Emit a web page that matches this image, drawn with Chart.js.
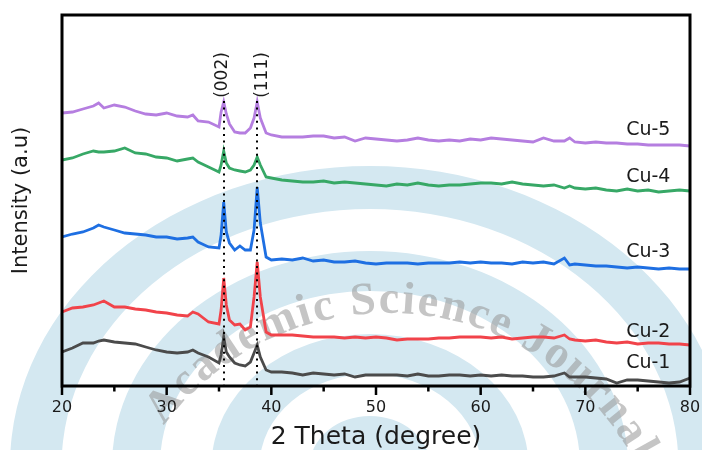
<!DOCTYPE html>
<html>
<head>
<meta charset="utf-8">
<title>XRD patterns Cu-1 to Cu-5</title>
<script src="https://cdn.jsdelivr.net/npm/chart.js@4.4.1/dist/chart.umd.min.js"></script>
<style>
  html, body { margin: 0; padding: 0; background: #fff; }
  canvas { display: block; }
</style>
</head>
<body>
<canvas id="xrd" width="702" height="450"></canvas>
<script>
// 2θ sampling (degrees), denser around the two reflections
const TWO_THETA = [
  20, 21, 22, 23, 23.5, 24, 25, 26, 27, 28,
  29, 30, 31, 32, 32.5, 33, 34, 35, 35.2, 35.45,
  35.7, 36, 36.5, 37, 37.5, 38, 38.35, 38.65, 38.95, 39.5,
  40,
  41, 42, 43, 44, 45, 46, 47, 48, 49, 50,
  51, 52, 53, 54, 55, 56, 57, 58, 59, 60,
  61, 62, 63, 64, 65, 66, 67, 68,
  68.5,
  69, 70, 71, 72, 73, 74, 75, 76, 77, 78, 79, 80,
];

// stacked intensities (a.u., offsets included)
const CU1 = [
  33, 37, 42, 42, 44, 45, 43, 42, 41, 38,
  35, 33, 32, 33, 35, 32, 28, 22, 30, 48,
  33, 28, 22, 20, 19, 23, 32, 40, 28, 15,
  13,
  13, 12, 10, 12, 11, 10, 11, 8, 10, 10,
  10, 10, 9, 11, 9, 9, 10, 10, 9, 10,
  9, 10, 9, 9, 8, 8, 9, 12,
  8,
  8, 8, 7, 6, 2, 5, 5, 4, 3, 2, 3, 7,
];
const CU2 = [
  73, 77, 78, 80, 82, 84, 78, 78, 76, 75,
  73, 72, 70, 69, 73, 71, 63, 61, 75, 107,
  80, 65, 60, 61, 55, 58, 88, 123, 88, 53,
  50,
  50, 50, 49, 48, 48, 48, 47, 48, 47, 48,
  47, 45, 46, 46, 46, 47, 47, 48, 48, 48,
  47, 48, 46, 47, 48, 48, 47, 50,
  46,
  45, 44, 45, 43, 42, 43, 41, 42, 42, 41, 41, 40,
];
const CU3 = [
  148, 151, 153, 157, 160, 158, 155, 152, 151, 150,
  148, 148, 146, 147, 148, 143, 138, 137, 150, 183,
  153, 142, 135, 139, 135, 135, 155, 198, 162, 128,
  125,
  126, 125, 127, 124, 125, 123, 123, 124, 122, 121,
  122, 122, 122, 121, 122, 122, 122, 123, 122, 123,
  122, 122, 121, 123, 122, 123, 121, 127,
  120,
  121, 120, 119, 119, 118, 117, 118, 117, 116, 117, 116, 116,
];
const CU4 = [
  225, 227, 231, 234, 233, 233, 234, 237, 232, 231,
  228, 227, 224, 226, 227, 223, 218, 213, 220, 234,
  222, 217, 215, 214, 213, 215, 220, 228, 220, 208,
  207,
  205, 204, 203, 203, 204, 202, 203, 202, 201, 200,
  199, 201, 200, 202, 200, 199, 200, 200, 201, 202,
  202, 201, 203, 201, 200, 199, 200, 197,
  199,
  197, 196, 197, 195, 194, 196, 194, 195, 193, 194, 195, 194,
];
const CU5 = [
  272, 273, 276, 279, 282, 277, 280, 278, 274, 271,
  270, 272, 269, 268, 270, 264, 263, 258, 273, 283,
  271, 261, 253, 252, 252, 257, 267, 283, 267, 252,
  250,
  248, 248, 248, 249, 249, 247, 248, 244, 247, 246,
  245, 244, 245, 247, 245, 244, 245, 244, 246, 245,
  247, 246, 245, 244, 243, 247, 244, 244,
  247,
  243, 242, 243, 242, 242, 241, 241, 240, 240, 240, 240, 239,
];

const SAMPLE_NAMES = ["Cu-1", "Cu-2", "Cu-3", "Cu-4", "Cu-5"];
const SERIES = [CU1, CU2, CU3, CU4, CU5];
const PEAK_POSITIONS = [35.45, 38.65];
const PEAK_LABELS = ["(002)", "(111)"];
const X_TICKS = [20, 30, 40, 50, 60, 70, 80];

const COLORS = ["#4b4b4b", "#f1434a", "#1e6fe2", "#37a866", "#b57ee0"];
const FONT = "'DejaVu Sans', 'Liberation Sans', sans-serif";
const INK = "#1a1a1a";

// sample names sit at the right end, just above each trace
const NAME_X = 73.9;
const NAME_BASE = [17, 48, 128, 203, 250];

// pale journal backdrop: blue bands plus lettering along an arc
const backdrop = {
  id: "backdrop",
  beforeDraw(chart) {
    const { ctx, width, height } = chart;
    ctx.save();
    ctx.fillStyle = "#fff";
    ctx.fillRect(0, 0, width, height);

    ctx.fillStyle = "#d4e8f1";
    [[10, 50], [92, 132], [175, 215], [257, 300]].forEach(([rIn, rOut]) => {
      ctx.save();
      ctx.translate(370, 466);
      ctx.scale(1.2, 1);
      ctx.beginPath();
      ctx.arc(0, 0, rOut, 0, Math.PI * 2);
      ctx.arc(0, 0, rIn, 0, Math.PI * 2, true);
      ctx.fill();
      ctx.restore();
    });

    const text = "Academic Science Journal";
    const cx = 388, cy = 592, r = 291;
    ctx.font = "bold 46px 'Liberation Serif', serif";
    ctx.fillStyle = "rgba(150, 150, 150, 0.55)";
    ctx.textAlign = "center";
    ctx.textBaseline = "middle";
    let angle = (-140 * Math.PI) / 180;
    let prevW = 0;
    for (let i = 0; i < text.length; i++) {
      const ch = text[i];
      const w = ctx.measureText(ch).width;
      if (i > 0) angle += (prevW / 2 + w / 2 + 3) / r;
      prevW = w;
      ctx.save();
      ctx.translate(cx + r * Math.cos(angle), cy + r * Math.sin(angle));
      ctx.rotate(angle + Math.PI / 2);
      ctx.fillText(ch, 0, 0);
      ctx.restore();
    }
    ctx.restore();
  },
};

const frame = {
  id: "frame",
  afterDatasetsDraw(chart) {
    const { ctx, chartArea, scales } = chart;
    const { left, top, right, bottom } = chartArea;
    const x = scales.x;
    const y = scales.y;
    ctx.save();

    // dotted guides through the reflections
    ctx.strokeStyle = "#000";
    ctx.lineWidth = 2;
    ctx.setLineDash([2, 4.6]);
    PEAK_POSITIONS.forEach((p) => {
      const px = Math.round(x.getPixelForValue(p));
      ctx.beginPath();
      ctx.moveTo(px, y.getPixelForValue(284));
      ctx.lineTo(px, bottom);
      ctx.stroke();
    });
    ctx.setLineDash([]);

    // box
    ctx.lineWidth = 3;
    ctx.strokeRect(left, top, right - left, bottom - top);

    // outward ticks, major every 10, minor every 5
    ctx.lineWidth = 2.5;
    for (let v = X_TICKS[0]; v <= X_TICKS[X_TICKS.length - 1]; v += 5) {
      const px = x.getPixelForValue(v);
      const len = v % 10 === 0 ? 8 : 4.5;
      ctx.beginPath();
      ctx.moveTo(px, bottom + 1);
      ctx.lineTo(px, bottom + 1 + len);
      ctx.stroke();
    }

    // reflection indices
    ctx.fillStyle = INK;
    ctx.font = "17px " + FONT;
    ctx.textAlign = "center";
    ctx.textBaseline = "middle";
    const shift = [-1, 5];
    PEAK_POSITIONS.forEach((p, i) => {
      ctx.save();
      ctx.translate(x.getPixelForValue(p) + shift[i], 75);
      ctx.rotate(-Math.PI / 2);
      ctx.fillText(PEAK_LABELS[i], 0, 0);
      ctx.restore();
    });

    // sample names
    ctx.font = "19px " + FONT;
    ctx.textAlign = "left";
    ctx.textBaseline = "alphabetic";
    SAMPLE_NAMES.forEach((name, i) => {
      ctx.fillText(name, x.getPixelForValue(NAME_X), y.getPixelForValue(NAME_BASE[i]));
    });

    ctx.restore();
  },
};

const datasets = SERIES.map((values, i) => ({
  label: SAMPLE_NAMES[i],
  data: TWO_THETA.map((t, k) => ({ x: t, y: values[k] })),
  borderColor: COLORS[i],
  borderWidth: 2.8,
  pointRadius: 0,
  tension: 0,
  fill: false,
}));

new Chart(document.getElementById("xrd"), {
  type: "line",
  data: { datasets },
  options: {
    responsive: false,
    animation: false,
    devicePixelRatio: 1,
    layout: { padding: { top: 15, right: 12, bottom: 0, left: 0 } },
    plugins: {
      legend: { display: false },
      tooltip: { enabled: false },
    },
    scales: {
      x: {
        type: "linear",
        min: 20,
        max: 80,
        afterBuildTicks: (scale) => {
          scale.ticks = X_TICKS.map((v) => ({ value: v }));
        },
        afterFit: (scale) => {
          scale.height = 64;
          scale.paddingLeft = 0;
          scale.paddingRight = 0;
        },
        grid: { display: false, drawTicks: false },
        border: { display: false },
        ticks: {
          color: INK,
          padding: 12,
          maxRotation: 0,
          font: { family: FONT, size: 16 },
        },
        title: {
          display: true,
          text: "2 Theta (degree)",
          color: INK,
          padding: { top: 0, bottom: 0 },
          font: { family: FONT, size: 25, lineHeight: 1 },
        },
      },
      y: {
        type: "linear",
        min: -1,
        max: 370,
        afterFit: (scale) => {
          scale.width = 62;
        },
        grid: { display: false, drawTicks: false },
        border: { display: false },
        ticks: { display: false },
        title: {
          display: true,
          text: "Intensity (a.u)",
          color: INK,
          padding: { top: 11, bottom: 0 },
          font: { family: FONT, size: 21, lineHeight: 1 },
        },
      },
    },
  },
  plugins: [backdrop, frame],
});
</script>
</body>
</html>
